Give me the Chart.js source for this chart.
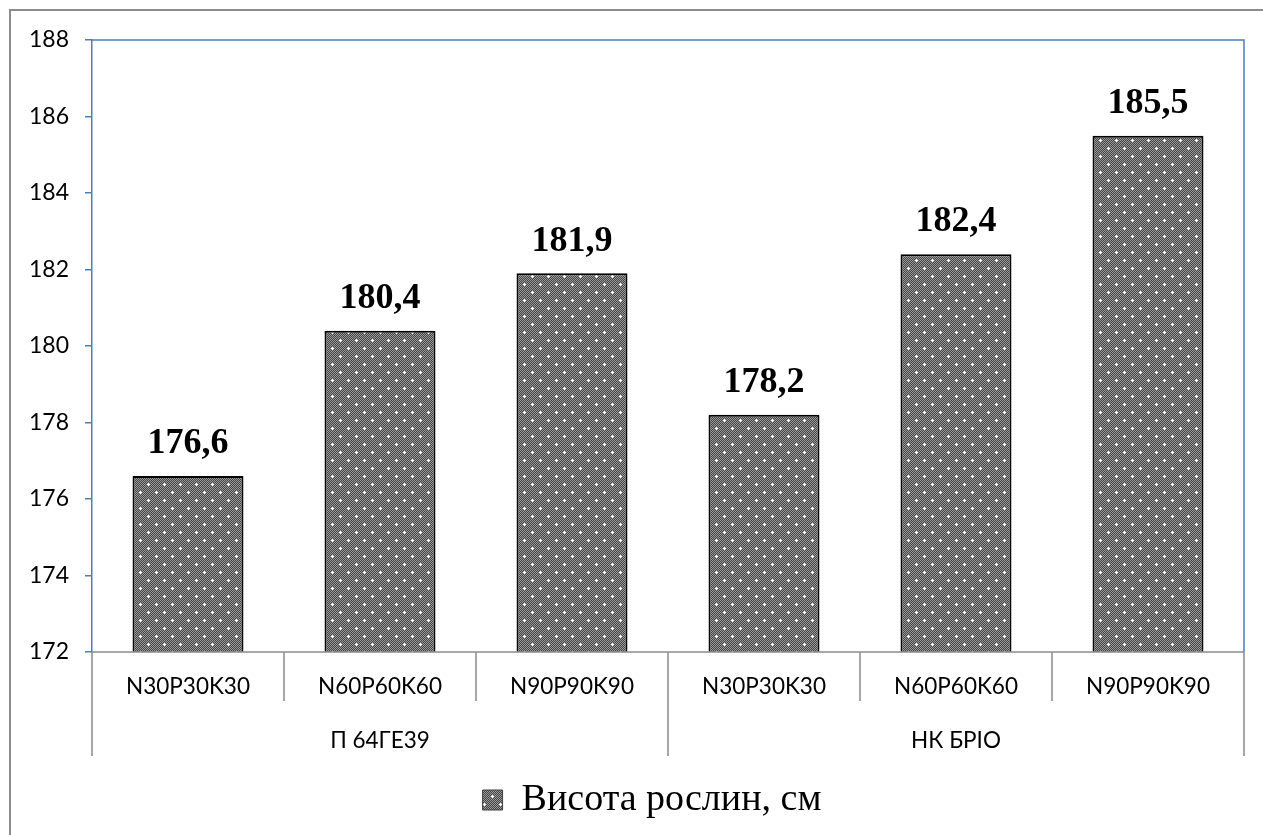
<!DOCTYPE html>
<html>
<head>
<meta charset="utf-8">
<script src="https://cdn.jsdelivr.net/npm/chart.js@4"></script>
<style>
  body { margin: 0; background: #fff; }
  #frame { position: absolute; left: 9px; top: 9px; width: 1300px; height: 900px; border: 2px solid #8c8c8c; }
  #wrap { position: absolute; left: 0; top: 0; width: 1263px; height: 835px; }
</style>
</head>
<body>
<div id="frame"></div>
<div id="wrap"><canvas id="heightChart" width="1263" height="835"></canvas></div>
<script>
// values
const doses = ['N30P30K30', 'N60P60K60', 'N90P90K90', 'N30P30K30', 'N60P60K60', 'N90P90K90'];
const hybrids = ['П 64ГЕ39', 'НК БРІО'];
const perHybrid = 3;
const plantHeight = [176.6, 180.4, 181.9, 178.2, 182.4, 185.5];
const seriesName = 'Висота рослин, см';

// grey dotted fill like the office pattern
function makePattern() {
    const c = document.createElement('canvas');
    c.width = 16; c.height = 16;
    const g = c.getContext('2d');
    for (let y = 0; y < 16; y++) {
        for (let x = 0; x < 16; x++) {
            g.fillStyle = (x + y) % 2 ? '#444444' : '#9a9a9a';
            g.fillRect(x, y, 1, 1);
        }
    }
    g.fillStyle = '#ffffff';
    [[4, 4], [12, 12]].forEach(([x, y]) => {
        g.fillRect(x - 1, y, 3, 1);
        g.fillRect(x, y - 1, 1, 3);
    });
    return g.createPattern(c, 'repeat');
}
const pattern = makePattern();

const frame = {
    id: 'frame',
    afterLayout(chart) {
        // legend sits a little right of the page centre
        chart.legend.left += 30;
        chart.legend.right += 30;
    },
    beforeDatasetsDraw(chart) {
        const {ctx, chartArea: a} = chart;
        ctx.save();
        ctx.strokeStyle = '#4a7ebb';
        ctx.lineWidth = 1.5;
        ctx.beginPath();
        ctx.moveTo(a.left, a.top);
        ctx.lineTo(a.right, a.top);
        ctx.lineTo(a.right, a.bottom);
        ctx.stroke();
        ctx.restore();
    },
    afterDraw(chart) {
        const {ctx, chartArea: a} = chart;
        const x = chart.scales.x;
        ctx.save();
        ctx.strokeStyle = '#8c8c8c';
        ctx.lineWidth = 1.5;
        ctx.beginPath();
        ctx.moveTo(a.left, a.bottom);
        ctx.lineTo(a.right, a.bottom);
        for (let i = 0; i <= doses.length; i++) {
            let px;
            if (i === 0) px = a.left;
            else if (i === doses.length) px = a.right;
            else px = (x.getPixelForValue(i - 1) + x.getPixelForValue(i)) / 2;
            const bottom = i % perHybrid === 0 ? a.bottom + 104 : a.bottom + 49;
            ctx.moveTo(px, a.bottom);
            ctx.lineTo(px, bottom);
        }
        ctx.stroke();
        ctx.fillStyle = '#000';
        ctx.font = '22.5px Lato';
        ctx.textAlign = 'center';
        ctx.textBaseline = 'middle';
        hybrids.forEach((h, gI) => {
            const first = x.getPixelForValue(gI * perHybrid);
            const last = x.getPixelForValue(gI * perHybrid + perHybrid - 1);
            ctx.fillText(h, (first + last) / 2, a.bottom + 89);
        });
        ctx.restore();
    },
    afterDatasetsDraw(chart) {
        const {ctx} = chart;
        const meta = chart.getDatasetMeta(0);
        ctx.save();
        ctx.fillStyle = '#000';
        ctx.font = 'bold 36px "Liberation Serif"';
        ctx.textAlign = 'center';
        ctx.textBaseline = 'bottom';
        meta.data.forEach((bar, i) => {
            const v = chart.data.datasets[0].data[i];
            ctx.fillText(v.toFixed(1).replace('.', ','), bar.x, bar.y - 14);
        });
        ctx.restore();
    }
};

const ctx = document.getElementById('heightChart').getContext('2d');
new Chart(ctx, {
    type: 'bar',
    data: {
        labels: doses,
        datasets: [{
            label: seriesName,
            data: plantHeight,
            backgroundColor: pattern,
            borderColor: '#000',
            borderWidth: 2,
            barPercentage: 0.578,
            categoryPercentage: 1
        }]
    },
    options: {
        responsive: false,
        animation: false,
        layout: {padding: {left: 0, right: 19, top: 40, bottom: 6}},
        plugins: {
            tooltip: {enabled: false},
            legend: {
                position: 'bottom',
                labels: {
                    color: '#000',
                    font: {family: '"Liberation Serif"', size: 38},
                    boxWidth: 20,
                    boxHeight: 20,
                    padding: 5,
                    generateLabels(chart) {
                        const items = Chart.defaults.plugins.legend.labels.generateLabels(chart);
                        items.forEach(it => { it.lineWidth = 1; it.strokeStyle = '#404040'; });
                        return items;
                    }
                }
            }
        },
        scales: {
            x: {
                grid: {display: false},
                border: {display: false},
                ticks: {color: '#000', font: {family: 'Lato', size: 22.5}, padding: 13, maxRotation: 0},
                afterFit(s) { s.height = 124; }
            },
            y: {
                min: 172,
                max: 188,
                ticks: {stepSize: 2, color: '#000', font: {family: 'Lato', size: 23}, padding: 16},
                grid: {drawOnChartArea: false, color: '#4a7ebb', tickLength: 7, lineWidth: 1.5},
                border: {color: '#4a7ebb', width: 1.5},
                afterFit(s) { s.width = 92; }
            }
        }
    },
    plugins: [frame]
});
</script>
</body>
</html>
